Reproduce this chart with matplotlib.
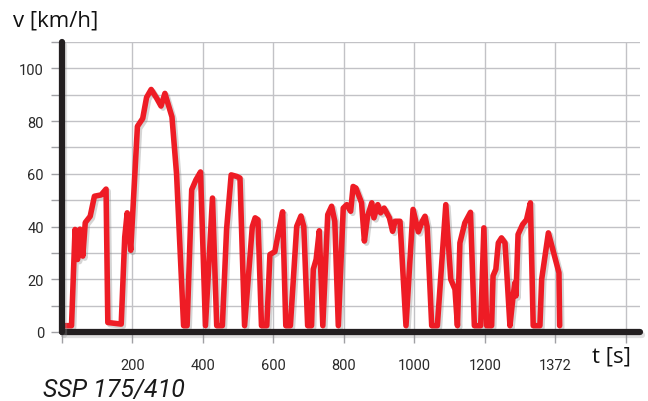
import matplotlib
matplotlib.use("Agg")
import matplotlib.pyplot as plt
import matplotlib.patheffects as pe

# speed trace (t in axis units, v in km/h)
t = [5, 27, 37, 44, 51, 59, 66, 80, 92, 111, 125, 130, 168, 178, 185, 195,
     214, 229, 240, 253, 269, 281, 292, 312, 325, 345, 355, 368, 380, 393,
     407, 427, 439, 455, 467, 480, 496, 505, 518, 540, 548, 556, 566, 581,
     590, 604, 614, 626, 635, 648, 666, 678, 686, 697, 708, 713, 721, 730,
     740, 754, 765, 774, 784, 798, 808, 819, 826, 834, 850, 858, 867, 879,
     885, 896, 904, 914, 929, 938, 945, 959, 976, 996, 1011, 1022, 1030,
     1036, 1049, 1065, 1089, 1103, 1115, 1122, 1129, 1143, 1159, 1170, 1188,
     1197, 1205, 1219, 1223, 1231, 1238, 1247, 1257, 1271, 1280, 1285, 1288,
     1294, 1307, 1318, 1329, 1337, 1356, 1361, 1380, 1410, 1412]
v = [2.4, 2.4, 38.9, 27.5, 39, 28.8, 41.5, 43.9, 51.5, 52, 54.2, 3.6, 3, 36,
     45.2, 31, 78, 81, 89, 92, 88.6, 85.7, 90.5, 81.6, 60, 2.4, 2.4, 54, 57.7,
     60.7, 2.4, 50.8, 2.4, 2.4, 39, 59.6, 59, 58.4, 2.4, 40, 43.3, 42.6, 2.4,
     2.4, 29.4, 30.5, 37.6, 45.6, 2.4, 2.4, 40.1, 44, 40, 2.4, 2.4, 23.8,
     27.5, 38.4, 2.4, 44.5, 47.7, 42, 2.4, 47, 48.3, 45.8, 55.2, 54.6, 49,
     34.5, 43.9, 49, 43.3, 48.3, 45.2, 47, 43.3, 38.2, 42, 42, 2.4, 46.5, 38,
     42, 43.9, 40, 2.4, 2.4, 48.3, 20, 16.2, 2.4, 33.8, 41.4, 45.4, 2.4, 2.4,
     39.5, 2.4, 2.4, 21.3, 23.8, 33.8, 35.7, 33.8, 2.4, 13.7, 18.7, 13.7, 37,
     40.8, 42.6, 49, 2.4, 2.4, 20, 37.6, 22.5, 2.4]

x_ticks = [0, 200, 400, 600, 800, 1000, 1200, 1400, 1600]
x_labels = ['', '200', '400', '600', '800', '1000', '1200', '1372', '']
y_ticks = [0, 20, 40, 60, 80, 100]

fig = plt.figure(figsize=(6.48, 4.02), dpi=100)
ax = fig.add_axes([62 / 648, 1 - 333 / 402, 578 / 648, 290 / 402])
ax.set_xlim(0, 1640)
ax.set_ylim(0, 110)

ax.set_xticks(x_ticks)
ax.set_xticklabels(x_labels)
ax.set_yticks(y_ticks)
ax.set_yticks(range(10, 111, 20), minor=True)
ax.grid(True, which='both', color='#c2c2c6', linewidth=1.0)
ax.set_axisbelow(True)
for s in ax.spines.values():
    s.set_visible(False)

ax.tick_params(axis='both', which='both', direction='out', color='#a0a0a4',
               width=1.0, labelcolor='#2a2a2a')
ax.tick_params(axis='y', which='both', length=8, pad=5)
ax.tick_params(axis='x', length=8, pad=11)
for lab in ax.get_xticklabels() + ax.get_yticklabels():
    lab.set_fontfamily('Roboto')
    lab.set_fontsize(10.5)

shadow = [pe.SimpleLineShadow(offset=(1.5, -1.5), shadow_color='#888888', alpha=0.35),
          pe.Normal()]
ax.plot(t, v, color='#ee1c25', linewidth=4.0, solid_joinstyle='round',
        solid_capstyle='round', path_effects=shadow, zorder=3)

axis_shadow = [pe.SimpleLineShadow(offset=(1.5, -2.5), shadow_color='#999999', alpha=0.3),
               pe.Normal()]
ax.axhline(0, color='#231f20', linewidth=4.5, solid_capstyle='round',
           clip_on=False, zorder=5, path_effects=axis_shadow)
ax.axvline(0, color='#231f20', linewidth=4.5, solid_capstyle='round',
           clip_on=False, zorder=5, path_effects=axis_shadow)

fig.text(13 / 648, 1 - 21 / 402, 'v [km/h]', fontsize=16, family='Open Sans',
         color='#111111', va='center', ha='left')
fig.text(592 / 648, 1 - 357 / 402, 't [s]', fontsize=16, family='Open Sans',
         color='#111111', va='center', ha='left')
fig.text(43 / 648, 1 - 390 / 402, 'SSP 175/410', fontsize=18,
         family='Roboto', style='italic', color='#1a1a1a',
         va='center', ha='left')

fig.savefig('out.png', dpi=100)
